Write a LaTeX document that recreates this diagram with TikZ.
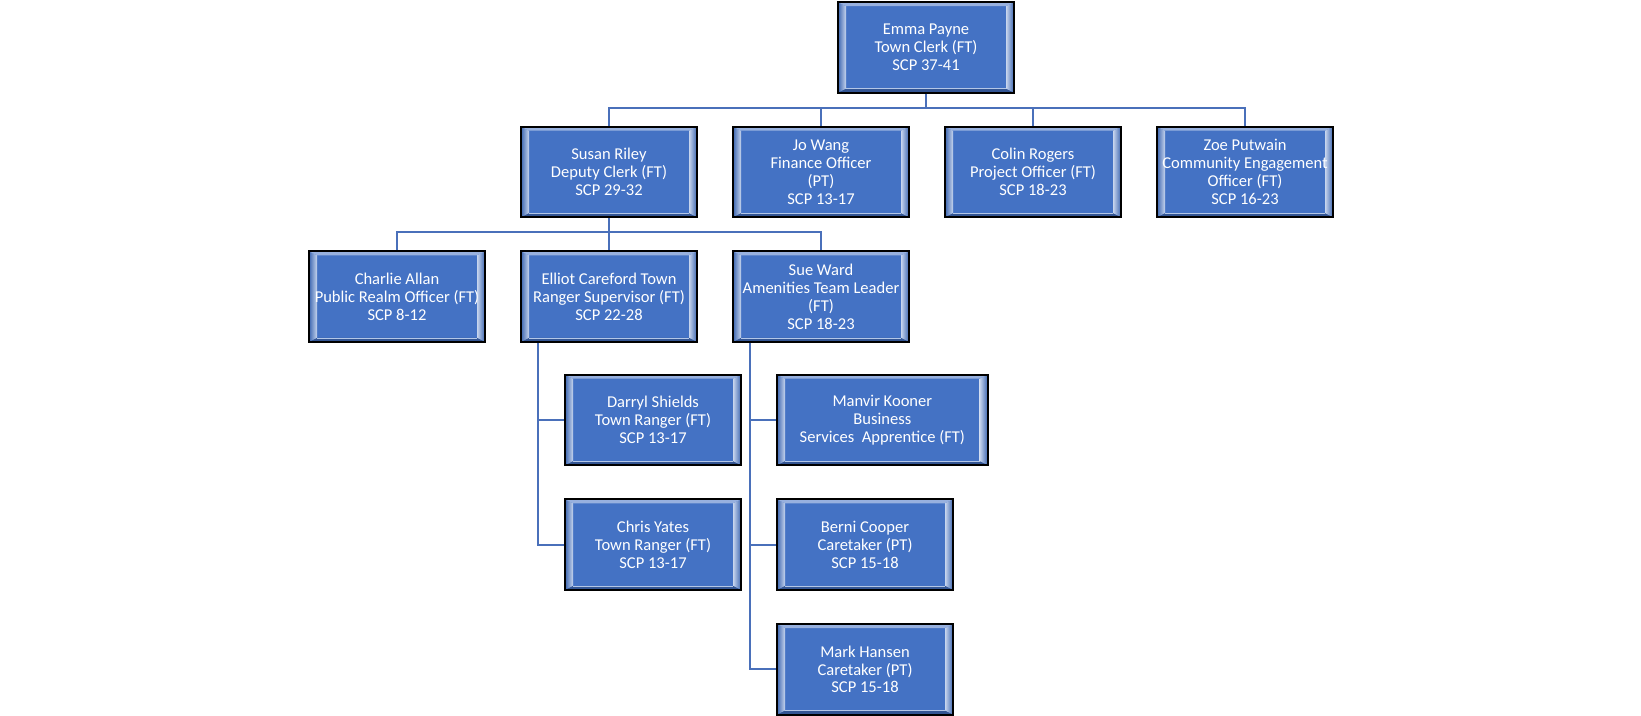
\documentclass[tikz,border=0pt]{standalone}
\usepackage{fontspec}
\setmainfont{Carlito}
\usetikzlibrary{positioning}
\definecolor{boxblue}{HTML}{4472C4}
\definecolor{linkblue}{HTML}{4A70BA}

% bevelled face of a staff box
\newcommand\bevelface{%
\coordinate (bA) at (path picture bounding box.north west);
\coordinate (bB) at (path picture bounding box.north east);
\coordinate (bC) at (path picture bounding box.south east);
\coordinate (bD) at (path picture bounding box.south west);
\shade[left color=boxblue!90!black,right color=boxblue!30!white] (bA) -- ([shift={(6pt,-3pt)}]bA) -- ([shift={(6pt,3pt)}]bD) -- (bD) -- cycle;
\shade[right color=boxblue!90!black,left color=boxblue!30!white] (bB) -- ([shift={(-6pt,-3pt)}]bB) -- ([shift={(-6pt,3pt)}]bC) -- (bC) -- cycle;
\fill[boxblue!55!white] (bA) -- ([shift={(6pt,-3pt)}]bA) -- ([shift={(-6pt,-3pt)}]bB) -- (bB) -- cycle;
\fill[boxblue!75!black] (bD) -- ([shift={(6pt,3pt)}]bD) -- ([shift={(-6pt,3pt)}]bC) -- (bC) -- cycle;
\draw[boxblue!40!white,line width=0.6pt] ([shift={(6pt,3pt)}]bD) -- ([shift={(-6pt,3pt)}]bC);}

\begin{document}
\begin{tikzpicture}[x=0.75pt,y=-0.75pt,font=\fontsize{12.4}{13.4}\selectfont,
staff/.style={draw=black,line width=1.5pt,fill=boxblue,text=white,align=center,inner sep=0pt,
minimum width=132pt,minimum height=68pt,path picture={\bevelface}},
link/.style={draw=linkblue,line width=1.5pt}]
\useasboundingbox[fill=white] (0,0) rectangle (1641,716);
\node[staff] (emma) at (926,47.5) {Emma Payne\\Town Clerk (FT)\\SCP 37-41};
\node[staff] (susan) at (609,172) {Susan Riley\\Deputy Clerk (FT)\\SCP 29-32};
\node[staff,right=25.5pt of susan] (jo) {Jo Wang\\Finance Officer\\(PT)\\SCP 13-17};
\node[staff,right=25.5pt of jo] (colin) {Colin Rogers\\Project Officer (FT)\\SCP 18-23};
\node[staff,right=25.5pt of colin] (zoe) {Zoe Putwain\\Community Engagement\\Officer (FT)\\SCP 16-23};
\node[staff,below=24pt of susan] (elliot) {Elliot Careford Town\\Ranger Supervisor (FT)\\SCP 22-28};
\node[staff,left=25.5pt of elliot] (charlie) {Charlie Allan\\Public Realm Officer (FT)\\SCP 8-12};
\node[staff,right=25.5pt of elliot] (sue) {Sue Ward\\Amenities Team Leader\\(FT)\\SCP 18-23};
\node[staff,below right=23pt and 33pt of elliot.south west] (darryl) {Darryl Shields\\Town Ranger (FT)\\SCP 13-17};
\node[staff,below=24pt of darryl] (chris) {Chris Yates\\Town Ranger (FT)\\SCP 13-17};
\node[staff,minimum width=158pt,below right=23pt and 33pt of sue.south west] (manvir) {Manvir Kooner\\Business\\Services~~Apprentice (FT)};
\node[staff,below=24pt of manvir.south west,anchor=north west] (berni) {Berni Cooper\\Caretaker (PT)\\SCP 15-18};
\node[staff,below=24pt of berni] (mark) {Mark Hansen\\Caretaker (PT)\\SCP 15-18};
% connectors
\foreach \n in {susan,jo,colin,zoe}
  \draw[link] (emma.south) |- ([yshift=13pt]\n.north) -- (\n.north);
\foreach \n in {charlie,elliot,sue}
  \draw[link] (susan.south) |- ([yshift=13.5pt]\n.north) -- (\n.north);
\coordinate (elliotstem) at ([xshift=13.5pt]elliot.south west);
\coordinate (suestem) at ([xshift=13.5pt]sue.south west);
\foreach \n in {darryl,chris}
  \draw[link] (elliotstem) |- (\n.west);
\foreach \n in {manvir,berni,mark}
  \draw[link] (suestem) |- (\n.west);
\end{tikzpicture}
\end{document}
